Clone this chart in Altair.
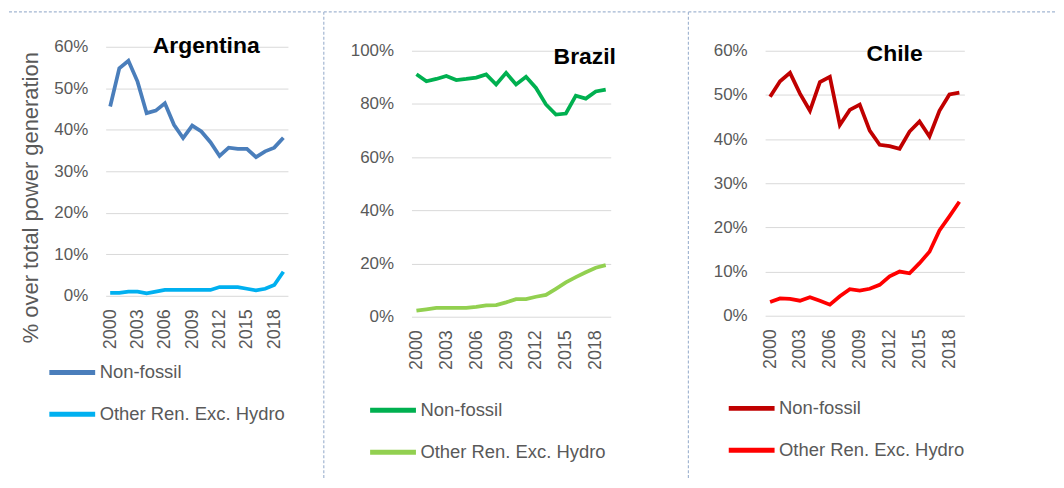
import altair as alt
import pandas as pd

years = list(range(2000, 2020))
series_names = ["Non-fossil", "Other Ren. Exc. Hydro"]

arg_nonfossil = [45.6, 54.8, 56.6, 51.6, 44.0, 44.6, 46.4, 41.2, 38.0, 41.0,
                 39.6, 37.0, 33.7, 35.7, 35.4, 35.4, 33.4, 34.8, 35.7, 38.1]
arg_other = [0.7, 0.7, 1.0, 1.0, 0.6, 1.0, 1.4, 1.4, 1.4, 1.4,
             1.4, 1.4, 2.1, 2.1, 2.1, 1.7, 1.3, 1.7, 2.6, 5.8]
bra_nonfossil = [91.2, 88.5, 89.4, 90.5, 89.0, 89.4, 89.9, 91.1, 87.3, 91.7,
                 87.3, 90.2, 86.0, 79.8, 76.0, 76.4, 83.1, 82.0, 84.7, 85.4]
bra_other = [2.3, 2.8, 3.3, 3.3, 3.3, 3.3, 3.7, 4.3, 4.4, 5.4,
             6.6, 6.6, 7.5, 8.2, 10.5, 12.9, 14.9, 16.7, 18.4, 19.4]
chl_nonfossil = [49.6, 53.1, 55.0, 50.3, 46.4, 52.9, 54.1, 43.2, 46.6, 47.8,
                 41.9, 38.7, 38.4, 37.8, 41.7, 44.0, 40.6, 46.4, 50.1, 50.5]
chl_other = [3.1, 3.9, 3.8, 3.4, 4.2, 3.4, 2.5, 4.4, 6.0, 5.7,
             6.1, 7.0, 8.9, 10.0, 9.6, 11.9, 14.5, 19.3, 22.5, 25.8]

year_ticks = [2000, 2003, 2006, 2009, 2012, 2015, 2018]
arg_ticks = [0, 10, 20, 30, 40, 50, 60]
bra_ticks = [0, 20, 40, 60, 80, 100]
chl_ticks = [0, 10, 20, 30, 40, 50, 60]

FRAME = "#a3b6d2"
GRID = "#d9d9d9"
LABEL = "#595959"


def make_df(a, b):
    rows = []
    for y, v in zip(years, a):
        rows.append({"year": y, "series": series_names[0], "value": v})
    for y, v in zip(years, b):
        rows.append({"year": y, "series": series_names[1], "value": v})
    return pd.DataFrame(rows)


one = pd.DataFrame({"f": [0]})


def hrule(x1, x2, y):
    return alt.Chart(one).mark_rule(color=FRAME, strokeWidth=1.2, strokeDash=[3, 2]).encode(
        x=alt.value(x1), x2=alt.value(x2), y=alt.value(y))


def vrule(x, y1, y2):
    return alt.Chart(one).mark_rule(color=FRAME, strokeWidth=1.2, strokeDash=[3, 2]).encode(
        x=alt.value(x), y=alt.value(y1), y2=alt.value(y2))


def panel(df, name, colors, ymax, ticks, w, h, yrange, title_x, title_y,
          legend_x, legend_y, frame, ytitle=None):
    yaxis_kwargs = dict(values=ticks, labelExpr="datum.value + '%'", grid=True,
                        gridColor=GRID, gridWidth=1, domain=False, ticks=False,
                        labelFontSize=17, labelColor=LABEL, labelPadding=18)
    if ytitle:
        yaxis_kwargs.update(title=ytitle, titleX=-75, titleY=147, titleAngle=270,
                            titleAlign="center", titleBaseline="middle",
                            titleFontSize=22, titleFontWeight="normal",
                            titleColor=LABEL)
    else:
        yaxis_kwargs.update(title=None)
    lines = alt.Chart(df).mark_line(strokeWidth=3.75).encode(
        x=alt.X("year:O", scale=alt.Scale(type="point", padding=0.5),
                axis=alt.Axis(values=year_ticks, labelAngle=270, title=None,
                              grid=False, domain=False, ticks=False,
                              labelFontSize=18, labelColor=LABEL,
                              labelPadding=13)),
        y=alt.Y("value:Q", scale=alt.Scale(domain=[0, ymax], nice=False, range=yrange),
                axis=alt.Axis(**yaxis_kwargs)),
        color=alt.Color("series:N",
                        scale=alt.Scale(domain=series_names, range=colors),
                        legend=alt.Legend(title=None, orient="none",
                                          legendX=legend_x, legendY=legend_y,
                                          direction="vertical",
                                          symbolType="stroke", symbolSize=2116,
                                          symbolStrokeWidth=5,
                                          labelFontSize=18.5, labelColor=LABEL,
                                          labelOffset=2, labelLimit=400,
                                          clipHeight=16,
                                          rowPadding=23, padding=0)),
    )
    title = alt.Chart(one).mark_text(fontSize=23, fontWeight="bold", color="black",
                                     align="center", baseline="alphabetic").encode(
        x=alt.value(title_x), y=alt.value(title_y), text=alt.value(name))
    return alt.layer(*frame, lines, title).properties(width=w, height=h)


p1 = panel(make_df(arg_nonfossil, arg_other), "Argentina", ["#4a7ebb", "#00b0f0"],
           60, arg_ticks, 183, 246, [246, -4], 101, 2, -59, 315,
           [hrule(-97, 217, -39)], ytitle="% over total power generation")
p2 = panel(make_df(bra_nonfossil, bra_other), "Brazil", ["#00b050", "#92d050"],
           100, bra_ticks, 200, 267, [267, 0], 174, 13, -44, 353,
           [hrule(-88, 276, -39), vrule(-88, -39, 429)])
p3 = panel(make_df(chl_nonfossil, chl_other), "Chile", ["#c00000", "#ff0000"],
           60, chl_ticks, 200, 266, [266, 0], 130, 10, -39, 351,
           [hrule(-77, 291, -39), vrule(-77, -39, 429)])

chart = alt.hconcat(p1, p2, p3, spacing=0).resolve_scale(
    color="independent", y="independent", x="independent"
).resolve_legend(color="independent").properties(
    padding={"left": 0, "top": 2, "right": 0, "bottom": 0}
).configure(font="Liberation Sans").configure_view(stroke=None)

chart.save("out.html", embed_options={"renderer": "svg", "actions": False})
